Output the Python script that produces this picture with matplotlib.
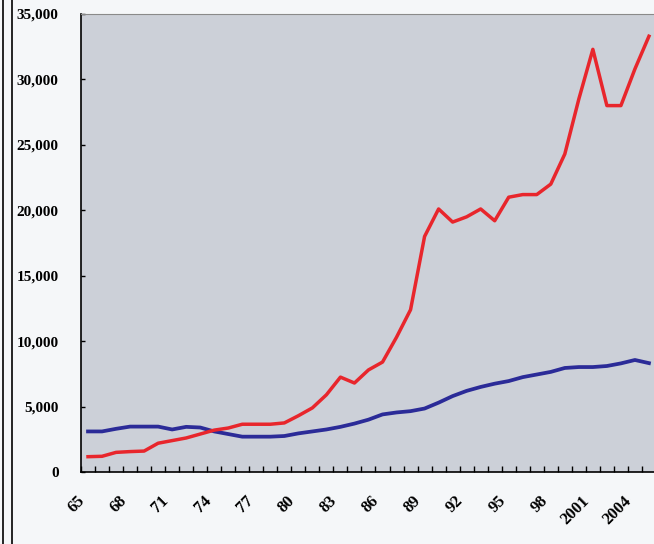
import matplotlib.pyplot as plt
from matplotlib.lines import Line2D

years = list(range(1965, 2006))

red_values = [1170, 1200, 1500, 1560, 1600, 2200, 2400, 2600, 2900, 3200,
              3360, 3650, 3650, 3650, 3750, 4300, 4900, 5900, 7250, 6800,
              7800, 8400, 10300, 12400, 18000, 20100, 19100, 19500, 20100, 19200,
              21000, 21200, 21200, 22000, 24300, 28500, 32300, 28000, 28000, 30800,
              33300]

blue_values = [3100, 3100, 3300, 3470, 3470, 3470, 3250, 3450, 3400, 3100,
               2900, 2700, 2700, 2700, 2750, 2950, 3100, 3250, 3450, 3700,
               4000, 4400, 4550, 4650, 4850, 5300, 5800, 6200, 6500, 6750,
               6950, 7250, 7450, 7650, 7950, 8020, 8020, 8100, 8300, 8560,
               8320]

label_years = list(range(1965, 2005, 3))
tick_labels = [str(y)[2:] if y < 2000 else str(y) for y in label_years]

yticks = list(range(0, 35001, 5000))
ytick_labels = ["{:,}".format(v) for v in yticks]

fig = plt.figure(figsize=(6.54, 5.44), dpi=100, facecolor="#f5f7f9")
ax = fig.add_axes([81/654, 72/544, 573/654, 458/544])
ax.set_facecolor("#ccd0d8")

ax.plot(years, blue_values, color="#2b2b98", lw=2.7, solid_joinstyle="round")
ax.plot(years, red_values, color="#e8262c", lw=2.5, solid_joinstyle="round")

ax.set_xlim(1964.57, 2005.36)
ax.set_ylim(0, 35000)

ax.set_yticks(yticks)
ax.set_yticklabels(ytick_labels)
ax.set_xticks(label_years)
ax.set_xticklabels(tick_labels, rotation=45, ha="right", va="top")
ax.set_xticks([y + 0.5 for y in range(1964, 2005)], minor=True)

for lab in ax.get_yticklabels():
    lab.set_fontfamily("Liberation Serif")
    lab.set_fontweight("bold")
    lab.set_fontsize(11)
for lab in ax.get_xticklabels():
    lab.set_fontfamily("Liberation Serif")
    lab.set_fontweight("bold")
    lab.set_fontsize(12)

ax.tick_params(axis="x", which="major", length=0, pad=15)
ax.tick_params(axis="x", which="minor", direction="in", length=4, width=1)
ax.tick_params(axis="y", direction="in", length=3, width=1, pad=16)

ax.spines["right"].set_visible(False)
ax.spines["top"].set_color("#8a8a8a")
ax.spines["left"].set_linewidth(1.2)
ax.spines["bottom"].set_linewidth(1.2)

# page border lines on the left edge
fig.add_artist(Line2D([3/654, 3/654], [0, 1], color="black", lw=1.2))
fig.add_artist(Line2D([12/654, 12/654], [0, 1], color="black", lw=1.2))

fig.savefig("out.png", dpi=100, facecolor=fig.get_facecolor())
